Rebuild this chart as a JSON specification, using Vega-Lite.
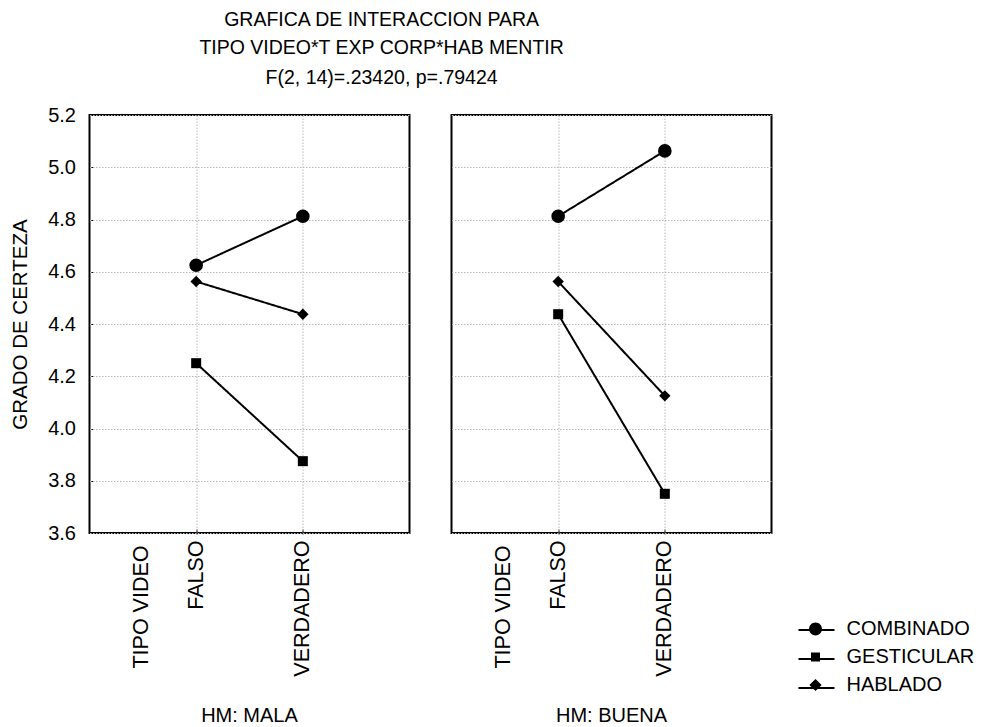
{
  "$schema": "https://vega.github.io/schema/vega-lite/v6.json",
  "padding": {"left": 10.5, "top": 10, "right": 5, "bottom": 2},
  "background": "white",
  "title": {
    "text": ["GRAFICA DE INTERACCION PARA", "TIPO VIDEO*T EXP CORP*HAB MENTIR"],
    "subtitle": "F(2, 14)=.23420, p=.79424",
    "anchor": "middle",
    "dx": -111,
    "font": "Liberation Sans",
    "fontSize": 19.5,
    "fontWeight": "normal",
    "color": "black",
    "lineHeight": 28,
    "subtitleFont": "Liberation Sans",
    "subtitleFontSize": 19.5,
    "subtitleColor": "black",
    "subtitlePadding": 10,
    "offset": 17
  },
  "data": {
    "values": [
      {"hm": "MALA", "tipo": "FALSO", "serie": "COMBINADO", "valor": 4.625},
      {"hm": "MALA", "tipo": "VERDADERO", "serie": "COMBINADO", "valor": 4.8125},
      {"hm": "MALA", "tipo": "FALSO", "serie": "GESTICULAR", "valor": 4.25},
      {"hm": "MALA", "tipo": "VERDADERO", "serie": "GESTICULAR", "valor": 3.875},
      {"hm": "MALA", "tipo": "FALSO", "serie": "HABLADO", "valor": 4.5625},
      {"hm": "MALA", "tipo": "VERDADERO", "serie": "HABLADO", "valor": 4.4375},
      {"hm": "BUENA", "tipo": "FALSO", "serie": "COMBINADO", "valor": 4.8125},
      {"hm": "BUENA", "tipo": "VERDADERO", "serie": "COMBINADO", "valor": 5.0625},
      {"hm": "BUENA", "tipo": "FALSO", "serie": "GESTICULAR", "valor": 4.4375},
      {"hm": "BUENA", "tipo": "VERDADERO", "serie": "GESTICULAR", "valor": 3.75},
      {"hm": "BUENA", "tipo": "FALSO", "serie": "HABLADO", "valor": 4.5625},
      {"hm": "BUENA", "tipo": "VERDADERO", "serie": "HABLADO", "valor": 4.125}
    ]
  },
  "facet": {
    "column": {
      "field": "hm",
      "type": "nominal",
      "sort": ["MALA", "BUENA"],
      "title": null,
      "header": {
        "labelOrient": "bottom",
        "labelExpr": "'HM: ' + datum.value",
        "labelFont": "Liberation Sans",
        "labelFontSize": 20,
        "labelColor": "black",
        "labelPadding": 30
      }
    }
  },
  "spacing": 40,
  "spec": {
    "width": 320,
    "height": 418,
    "encoding": {
      "x": {
        "field": "tipo",
        "type": "ordinal",
        "scale": {"type": "point", "domain": ["FALSO", "VERDADERO"], "padding": 1},
        "axis": {
          "title": "TIPO VIDEO",
          "titleAngle": 270,
          "titleAlign": "right",
          "titleBaseline": "middle",
          "titleX": 52,
          "titleY": 11,
          "titleFont": "Liberation Sans",
          "titleFontSize": 21.5,
          "titleFontWeight": "normal",
          "titleColor": "black",
          "labelAngle": 270,
          "labelFont": "Liberation Sans",
          "labelFontSize": 21.5,
          "labelColor": "black",
          "labelPadding": 11,
          "tickSize": -5,
          "tickColor": "black",
          "domain": false,
          "grid": true,
          "gridColor": "#b8b8b8",
          "gridDash": [1.5, 1.5]
        }
      },
      "y": {
        "field": "valor",
        "type": "quantitative",
        "scale": {"domain": [3.6, 5.2], "nice": false, "zero": false},
        "axis": {
          "title": "GRADO DE CERTEZA",
          "values": [3.6, 3.8, 4.0, 4.2, 4.4, 4.6, 4.8, 5.0, 5.2],
          "format": ".1f",
          "titleFont": "Liberation Sans",
          "titleFontSize": 20.5,
          "titleFontWeight": "normal",
          "titleColor": "black",
          "titlePadding": 17,
          "labelFont": "Liberation Sans",
          "labelFontSize": 20,
          "labelColor": "black",
          "labelPadding": 18,
          "tickSize": -5,
          "tickColor": "black",
          "domain": false,
          "grid": true,
          "gridColor": "#b8b8b8",
          "gridDash": [1.5, 1.5]
        }
      }
    },
    "layer": [
      {
        "mark": {"type": "line", "color": "black", "strokeWidth": 2},
        "encoding": {
          "strokeDash": {
            "field": "serie",
            "type": "nominal",
            "scale": {"range": [[1, 0], [1, 0], [1, 0]]},
            "legend": {
              "title": null,
              "orient": "none",
              "legendX": 708,
              "legendY": 496,
              "symbolType": "stroke",
              "symbolSize": 1296,
              "symbolStrokeWidth": 2,
              "symbolStrokeColor": "black",
              "symbolOpacity": 1,
              "labelExpr": "' '",
              "labelFont": "Liberation Sans",
              "labelFontSize": 20,
              "labelColor": "black",
              "labelOffset": 13,
              "rowPadding": -1
            }
          }
        }
      },
      {
        "transform": [{"filter": "datum.serie == 'COMBINADO'"}],
        "mark": {"type": "point", "shape": "circle", "filled": true, "color": "black", "opacity": 1, "size": 185}
      },
      {
        "transform": [{"filter": "datum.serie == 'GESTICULAR'"}],
        "mark": {"type": "point", "shape": "square", "filled": true, "color": "black", "opacity": 1, "size": 100}
      },
      {
        "transform": [{"filter": "datum.serie == 'HABLADO'"}],
        "mark": {"type": "point", "shape": "diamond", "filled": true, "color": "black", "opacity": 1, "size": 130}
      },
      {
        "mark": {"type": "point", "filled": true, "color": "black", "opacity": 0},
        "encoding": {
          "shape": {
            "field": "serie",
            "type": "nominal",
            "scale": {
              "domain": ["COMBINADO", "GESTICULAR", "HABLADO"],
              "range": [
                "M0.36,0A0.36,0.36 0 1 1 -0.36,0A0.36,0.36 0 1 1 0.36,0Z",
                "M-0.25,-0.25L0.25,-0.25L0.25,0.25L-0.25,0.25Z",
                "M0,-0.34L0.34,0L0,0.34L-0.34,0Z"
              ]
            },
            "legend": {
              "title": null,
              "orient": "none",
              "legendX": 708,
              "legendY": 496,
              "symbolSize": 1296,
              "symbolStrokeWidth": 0,
              "symbolFillColor": "black",
              "symbolOpacity": 1,
              "labelFont": "Liberation Sans",
              "labelFontSize": 20,
              "labelColor": "black",
              "labelOffset": 13,
              "rowPadding": -1
            }
          }
        }
      }
    ]
  },
  "config": {
    "view": {"stroke": "black", "strokeWidth": 2},
    "axis": {"labelOverlap": false}
  }
}
